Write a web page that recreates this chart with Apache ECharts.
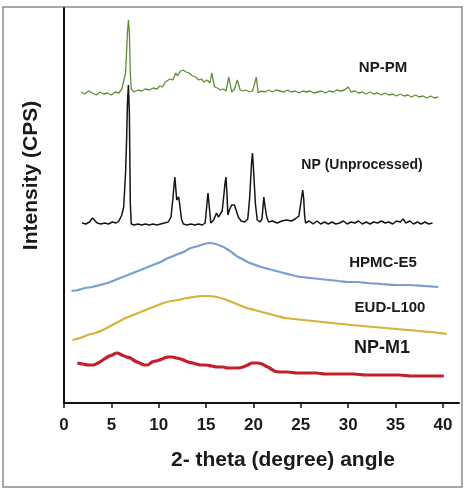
<!DOCTYPE html>
<html lang="en">
<head>
  <meta charset="utf-8">
  <title>XRD patterns</title>
  <script type="text/javascript" src="https://fastly.jsdelivr.net/npm/echarts@6/dist/echarts.min.js"></script>
  <style type="text/css">
    * { margin: 0; padding: 0; }
    html, body, #chart { width: 100%; height: 100%; overflow: hidden; background: #fff; }
  </style>
</head>
<body>
  <div id="chart"></div>
  <script type="text/javascript">
    // x tick values (2-theta)
    var xTicks = [0, 5, 10, 15, 20, 25, 30, 35, 40];

    // each trace is [2theta, stacked intensity]
    var npPm = [
      [1.8,311],[2.2,309],[2.6,312],[3.0,310],[3.4,308],[3.8,311],[4.2,309],[4.6,310],[5.0,308],[5.4,311],
      [5.8,310],[6.1,314],[6.3,312],[6.5,330],[6.7,370],[6.8,383],[6.9,370],[7.0,330],[7.1,314],[7.4,311],
      [7.8,313],[8.2,312],[8.6,314],[9.0,313],[9.4,315],[9.8,314],[10.1,317],[10.4,316],[10.7,321],[10.9,319],
      [11.2,324],[11.5,323],[11.8,330],[12.0,327],[12.3,332],[12.6,333],[12.9,331],[13.2,330],[13.6,327],[13.9,326],
      [14.2,323],[14.5,324],[14.8,321],[15.1,323],[15.4,320],[15.6,330],[15.9,316],[16.2,315],[16.5,313],[16.8,314],
      [17.1,312],[17.4,326],[17.7,311],[18.0,314],[18.3,323],[18.6,313],[18.9,312],[19.2,313],[19.6,311],[19.9,312],
      [20.2,322],[20.3,326],[20.5,310],[20.8,312],[21.2,311],[21.6,313],[22.0,311],[22.4,313],[22.8,312],[23.2,311],
      [23.6,313],[24.0,311],[24.4,312],[24.8,310],[25.2,312],[25.6,311],[26.0,312],[26.4,310],[26.8,311],[27.2,312],
      [27.6,310],[28.0,312],[28.4,311],[28.8,313],[29.2,312],[29.6,313],[30.0,316],[30.3,311],[30.7,312],[31.1,310],
      [31.5,311],[31.9,309],[32.3,311],[32.7,309],[33.1,310],[33.5,308],[33.9,310],[34.3,308],[34.7,309],[35.1,307],
      [35.5,309],[35.9,307],[36.3,308],[36.7,306],[37.1,308],[37.5,306],[37.9,307],[38.3,305],[38.7,307],[39.1,305],
      [39.5,306]
    ];
    var npRaw = [
      [1.9,180],[2.3,179],[2.7,181],[3.0,185],[3.2,184],[3.5,180],[3.9,179],[4.3,180],[4.7,179],[5.1,181],
      [5.5,180],[5.8,182],[6.1,188],[6.3,196],[6.5,230],[6.6,260],[6.7,300],[6.8,318],[6.9,290],[7.0,200],
      [7.1,179],[7.4,178],[7.8,179],[8.2,178],[8.6,179],[9.0,178],[9.4,179],[9.8,178],[10.2,179],[10.6,180],
      [11.0,181],[11.3,186],[11.5,205],[11.7,226],[11.8,215],[11.9,203],[12.0,204],[12.1,206],[12.2,200],[12.4,184],
      [12.6,179],[13.0,178],[13.4,179],[13.8,178],[14.2,179],[14.6,178],[14.9,180],[15.1,200],[15.2,210],[15.3,200],
      [15.5,180],[15.8,183],[16.1,190],[16.3,186],[16.4,185],[16.7,192],[16.9,210],[17.0,220],[17.1,226],[17.2,210],
      [17.3,188],[17.5,194],[17.7,198],[17.9,197],[18.0,198],[18.2,192],[18.4,186],[18.7,182],[19.1,181],[19.4,184],
      [19.6,205],[19.8,240],[19.9,250],[20.0,235],[20.2,200],[20.4,183],[20.7,181],[20.9,184],[21.0,195],[21.1,206],
      [21.2,198],[21.4,186],[21.6,181],[22.0,182],[22.5,180],[23.0,182],[23.5,183],[24.0,182],[24.4,184],[24.8,187],
      [25.0,200],[25.2,213],[25.3,205],[25.4,188],[25.5,180],[25.9,182],[26.3,179],[26.7,182],[27.1,179],[27.5,181],
      [27.9,179],[28.3,181],[28.7,179],[29.1,180],[29.5,182],[29.9,179],[30.3,181],[30.7,180],[31.1,182],[31.5,179],
      [31.9,181],[32.3,179],[32.7,181],[33.1,180],[33.5,182],[33.9,180],[34.3,181],[34.7,179],[35.1,182],[35.5,181],
      [35.8,184],[36.1,180],[36.5,182],[36.9,179],[37.3,181],[37.7,179],[38.1,181],[38.5,179],[38.9,180]
    ];
    var hpmc = [
      [0.8,112],[1.5,113],[2.2,115],[3.0,116],[3.8,118],[4.6,120],[5.4,123],[6.2,126],[7.0,129],[7.8,132],
      [8.6,135],[9.4,138],[10.2,141],[11.0,145],[11.8,148],[12.6,151],[13.4,155],[14.2,157],[14.8,159],[15.4,160],
      [16.0,159],[16.6,157],[17.2,154],[17.8,150],[18.4,146],[19.0,143],[19.6,140],[20.2,138],[20.8,136],[21.6,134],
      [22.4,132],[23.2,130],[24.0,128],[25.0,126],[26.0,125],[27.0,124],[28.0,123],[29.0,122],[30.0,121],[31.0,121],
      [32.0,120],[33.5,119],[35.0,118],[36.5,118],[38.0,117],[39.5,116]
    ];
    var eud = [
      [0.9,63],[1.7,65],[2.5,68],[3.3,70],[4.1,73],[4.9,77],[5.7,81],[6.5,85],[7.3,88],[8.1,91],
      [8.9,94],[9.7,97],[10.5,100],[11.3,102],[12.1,103],[12.9,105],[13.7,106],[14.5,107],[15.3,107],[16.1,106],
      [16.9,104],[17.7,101],[18.5,98],[19.3,95],[20.1,93],[20.9,91],[21.7,89],[22.5,87],[23.3,85],[24.3,84],
      [25.3,83],[26.3,82],[27.3,81],[28.3,80],[29.3,79],[30.3,78],[31.5,77],[32.7,76],[33.9,75],[35.1,74],
      [36.3,73],[37.5,72],[38.7,71],[39.6,70],[40.4,69]
    ];
    var npM1 = [
      [1.4,40],[2.0,39],[2.6,38],[3.1,38],[3.6,40],[4.1,43],[4.6,46],[5.1,48],[5.6,50],[6.1,48],
      [6.6,46],[7.0,45],[7.5,42],[8.0,40],[8.5,38],[8.8,38],[9.3,41],[9.7,42],[10.1,43],[10.6,45],
      [11.0,46],[11.4,46],[11.9,45],[12.3,44],[12.6,43],[13.1,41],[13.6,40],[14.0,39],[14.4,38],[15.0,38],
      [15.6,37],[16.2,36],[16.8,36],[17.2,35],[17.8,35],[18.4,35],[18.9,36],[19.4,38],[19.9,40],[20.4,40],
      [20.9,39],[21.3,37],[21.7,35],[22.2,32],[22.8,31],[23.6,31],[24.6,30],[25.6,30],[26.6,30],[27.6,29],
      [28.6,29],[29.6,29],[30.6,29],[31.8,28],[33.0,28],[34.2,28],[35.4,28],[36.6,27],[37.8,27],[39.0,27],
      [40.1,27]
    ];

    var font = '"Liberation Sans", Arial, sans-serif';

    function trace(name, data, color, width, smooth) {
      return {
        type: 'line',
        name: name,
        data: data,
        showSymbol: false,
        silent: true,
        smooth: smooth || false,
        lineStyle: { color: color, width: width },
        animation: false
      };
    }

    function tag(text, x, y, size) {
      return {
        type: 'text',
        x: x,
        y: y,
        style: {
          text: text,
          fill: '#1a1a1a',
          font: 'bold ' + size + 'px ' + font,
          align: 'center',
          verticalAlign: 'middle'
        }
      };
    }

    var option = {
      backgroundColor: '#fff',
      animation: false,
      grid: { left: 64, right: 11, top: 8, bottom: 95 },
      xAxis: {
        type: 'value',
        min: 0,
        max: 41.7,
        name: '2- theta (degree) angle',
        nameLocation: 'middle',
        nameGap: 47,
        nameTextStyle: { fontFamily: font, fontWeight: 'bold', fontSize: 21, color: '#1a1a1a', padding: [0, 0, 0, 43] },
        splitLine: { show: false },
        axisLine: { lineStyle: { color: '#111', width: 2 } },
        axisTick: { customValues: xTicks, length: 5, lineStyle: { color: '#111', width: 1.5 } },
        axisLabel: { customValues: xTicks, margin: 14, fontFamily: font, fontWeight: 'bold', fontSize: 17, color: '#1a1a1a' }
      },
      yAxis: {
        type: 'value',
        min: 0,
        max: 395,
        name: 'Intensity (CPS)',
        nameLocation: 'middle',
        nameRotate: 90,
        nameGap: 22,
        nameTextStyle: { fontFamily: font, fontWeight: 'bold', fontSize: 21, color: '#1a1a1a', padding: [0, 0, 0, 60] },
        splitLine: { show: false },
        axisLine: { show: true, lineStyle: { color: '#111', width: 2 } },
        axisTick: { show: false },
        axisLabel: { show: false }
      },
      series: [
        trace('NP-PM', npPm, '#5f8f33', 1.3),
        trace('NP (Unprocessed)', npRaw, '#151515', 1.5),
        trace('HPMC-E5', hpmc, '#7a9ecf', 2.2, 0.3),
        trace('EUD-L100', eud, '#d5b23a', 2.2, 0.3),
        trace('NP-M1', npM1, '#c2202b', 3.2, 0.3)
      ],
      graphic: [
        { type: 'rect', shape: { x: 3, y: 7, width: 459, height: 480 }, style: { fill: 'none', stroke: '#8a8a8a', lineWidth: 1.5 } },
        tag('NP-PM', 383, 68, 15),
        tag('NP (Unprocessed)', 362, 165, 14),
        tag('HPMC-E5', 383, 263, 15),
        tag('EUD-L100', 390, 308, 15),
        tag('NP-M1', 382, 348, 18)
      ]
    };

    var chart = echarts.init(document.getElementById('chart'));
    chart.setOption(option);
  </script>
</body>
</html>
